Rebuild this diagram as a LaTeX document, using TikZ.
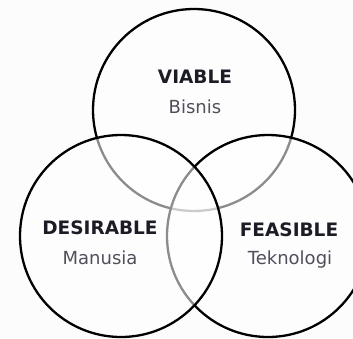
\documentclass[tikz,border=0pt]{standalone}
\usepackage{fontspec}
\setmainfont{DejaVu Sans}
\definecolor{bgcol}{HTML}{FCFCFC}
\definecolor{titlecol}{HTML}{1C1C26}
\definecolor{subcol}{HTML}{50505C}
\tikzset{
  venn/.style={circle, draw=black, line width=2.3pt, minimum size=202pt, inner sep=0pt,
    fill=white, fill opacity=0.55, draw opacity=1},
  title/.style={font=\fontsize{18.5}{21}\selectfont\bfseries, text=titlecol, inner sep=0pt},
  sub/.style={font=\fontsize{18}{21}\selectfont, text=subcol, inner sep=0pt}
}
\begin{document}
\begin{tikzpicture}[x=1pt,y=-1pt]
\useasboundingbox[fill=bgcol] (0,0) rectangle (353,338);
% Circles (top first, then right, then left)
\node[venn] (viable) at (194,110) {};
\node[venn] (feasible) at (268,236) {};
\node[venn] (desirable) at (121,236) {};

% Labels
\node[title] (viablet) at (195,77) {VIABLE};
\node[sub] (viables) at (195,107) {Bisnis};
\node[title] (desirablet) at (100,228) {DESIRABLE};
\node[sub] (desirables) at (100,258) {Manusia};
\node[title] (feasiblet) at (289,230) {FEASIBLE};
\node[sub] (feasibles) at (290,260) {Teknologi};
\end{tikzpicture}
\end{document}
